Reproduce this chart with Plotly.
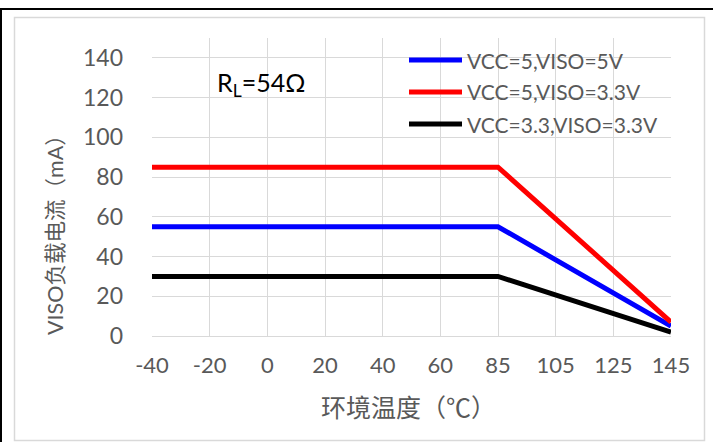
import plotly.graph_objects as go

categories = ["-40", "-20", "0", "20", "40", "60", "85", "105", "125", "145"]
series_names = ["VCC=5,VISO=5V", "VCC=5,VISO=3.3V", "VCC=3.3,VISO=3.3V"]
blue_vals = [55, 55, 55, 55, 55, 55, 55, None, None, 5]
red_vals = [85, 85, 85, 85, 85, 85, 85, None, None, 7]
black_vals = [30, 30, 30, 30, 30, 30, 30, None, None, 2]
colors = ["#0000FF", "#FF0000", "#000000"]
y_ticks = [0, 20, 40, 60, 80, 100, 120, 140]

W, H = 713, 442
L, R, T, B = 152, 42, 38, 106
PW, PH = W - L - R, H - T - B


def px(x):
    return (x - L) / PW


def py(y):
    return 1 - (y - T) / PH


fig = go.Figure()
for name, vals, c in zip(series_names, [blue_vals, red_vals, black_vals], colors):
    fig.add_trace(go.Scatter(x=categories, y=vals, mode="lines", name=name,
                             line=dict(color=c, width=5), connectgaps=True,
                             showlegend=False))

grey = "#595959"
grid = "#d9d9d9"
font_main = "Lato, 'Noto Sans CJK SC', sans-serif"

shapes = [
    dict(type="line", xref="paper", yref="paper", x0=px(0), x1=px(713), y0=py(9), y1=py(9),
         line=dict(color="black", width=2)),
    dict(type="line", xref="paper", yref="paper", x0=px(1), x1=px(1), y0=py(8), y1=py(442),
         line=dict(color="black", width=2)),
    dict(type="rect", xref="paper", yref="paper", x0=px(14.5), x1=px(704.5), y0=py(17.5), y1=py(440.5),
         line=dict(color=grid, width=1.5), fillcolor="rgba(0,0,0,0)"),
]

annotations = []
leg_y = [60, 92, 124]
for name, c, yy in zip(series_names, colors, leg_y):
    shapes.append(dict(type="line", xref="paper", yref="paper", x0=px(409), x1=px(462),
                       y0=py(yy), y1=py(yy), line=dict(color=c, width=5)))
    annotations.append(dict(xref="paper", yref="paper", x=px(465), y=py(yy), text=name,
                            showarrow=False, xanchor="left", yanchor="middle",
                            font=dict(family=font_main, size=21, color=grey)))

annotations.append(dict(xref="paper", yref="paper", x=px(215), y=py(84),
                        text="R<sub>L</sub>=54Ω", showarrow=False, xanchor="left", yanchor="middle",
                        font=dict(family=font_main, size=25, color="black")))
annotations.append(dict(xref="paper", yref="paper", x=px(55), y=py(230),
                        text="VISO负载电流（mA）", showarrow=False, textangle=-90,
                        xanchor="center", yanchor="middle",
                        font=dict(family="Lato, 'Noto Sans CJK SC'", size=21.5, color=grey)))
annotations.append(dict(xref="paper", yref="paper", x=px(408), y=py(406),
                        text="环境温度（℃）", showarrow=False,
                        xanchor="center", yanchor="middle",
                        font=dict(family="'Noto Sans CJK SC'", size=25, color=grey)))

fig.update_layout(
    width=W, height=H,
    margin=dict(l=L, r=R, t=T, b=B),
    paper_bgcolor="white", plot_bgcolor="white",
    shapes=shapes, annotations=annotations,
    xaxis=dict(type="category", range=[0, 9], showgrid=True, gridcolor=grid, gridwidth=1,
               showline=False, zeroline=False, ticks="",
               tickfont=dict(family=font_main, size=22, color=grey),
               ticklabelstandoff=14),
    yaxis=dict(range=[0, 150], tickvals=y_ticks, showgrid=True, gridcolor=grid, gridwidth=1,
               zeroline=True, zerolinecolor=grid, zerolinewidth=1, showline=False, ticks="",
               tickfont=dict(family=font_main, size=23, color=grey),
               ticklabelstandoff=28),
)

fig.write_html("out.html", config={"displayModeBar": False},
               post_script="document.body.style.margin='0';document.body.style.padding='0';")
